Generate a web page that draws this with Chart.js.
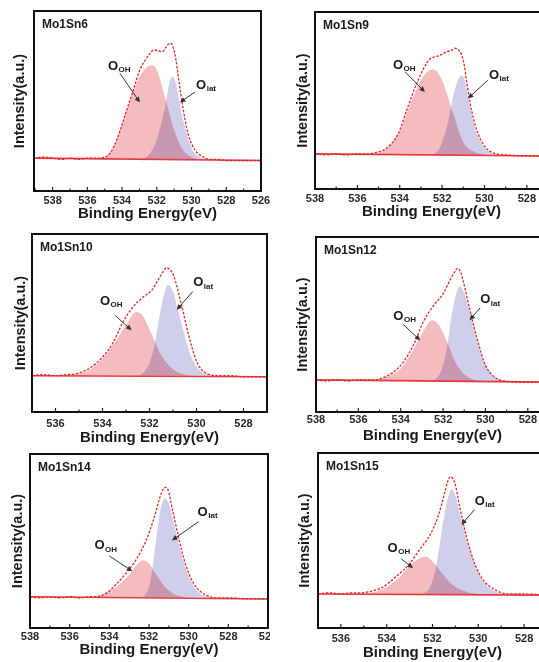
<!DOCTYPE html>
<html>
<head>
<meta charset="utf-8">
<script src="https://cdn.jsdelivr.net/npm/chart.js@4.4.0/dist/chart.umd.min.js"></script>
<style>
  html, body { margin: 0; padding: 0; background: #fff; width: 539px; height: 662px; overflow: hidden; position: relative; }
  .panel { position: absolute; overflow: hidden; }
  .panel canvas { position: absolute; left: 0; top: 0; }
</style>
</head>
<body>
<script>
// O 1s spectra, [binding energy (eV), normalised intensity]
// Mo1Sn6
const sn6Env = [[539.07,0.01],[538.5,0.02],[538,0.01],[537.5,0.0],[537,0.01],[536.5,0.0],[536,0.01],[535.5,0.01],[535,0.02],[534.7,0.05],[534.3,0.17],[534,0.30],[533.7,0.44],[533.3,0.62],[533,0.76],[532.6,0.87],[532.4,0.91],[532.2,0.94],[532,0.94],[531.8,0.93],[531.65,0.93],[531.5,0.96],[531.35,0.99],[531.2,1.0],[531.05,0.96],[530.9,0.86],[530.75,0.70],[530.5,0.45],[530.2,0.22],[529.8,0.08],[529.3,0.02],[529,0.0],[528.5,0.0],[528,-0.01],[527,-0.01],[526,-0.01]];
const sn6Ooh = [[536,0],[535.5,0.005],[535,0.02],[534.5,0.10],[534,0.30],[533.5,0.52],[533,0.71],[532.6,0.79],[532.3,0.81],[532,0.77],[531.5,0.52],[531,0.25],[530.5,0.08],[530,0.02],[529.5,0],[529,0]];
const sn6Lat = [[533,0],[532.5,0.03],[532,0.17],[531.5,0.47],[531.25,0.68],[531.1,0.71],[530.95,0.68],[530.5,0.35],[530,0.10],[529.5,0.02],[529,0]];
const sn6Base = [[539.07,0.01],[526,-0.01]];
// Mo1Sn9
const sn9Env = [[538,0.01],[537.5,0.0],[537,0.01],[536.5,0.0],[536,0.01],[535.5,0.01],[535,0.03],[534.64,0.06],[534.07,0.20],[533.67,0.42],[533.2,0.67],[532.73,0.86],[532.5,0.91],[532.34,0.92],[532.15,0.93],[531.95,0.95],[531.75,0.97],[531.55,0.98],[531.4,1.0],[531.25,0.99],[531.08,0.94],[530.95,0.84],[530.85,0.70],[530.61,0.42],[530.3,0.20],[529.9,0.06],[529.43,0.01],[529,0.0],[528,-0.01],[527,-0.01]];
const sn9Ooh = [[536,0],[535.5,0.005],[535,0.02],[534.5,0.08],[534,0.22],[533.5,0.48],[533,0.70],[532.7,0.78],[532.4,0.80],[532,0.70],[531.5,0.40],[531,0.12],[530.5,0.03],[530,0]];
const sn9Lat = [[532.5,0],[532.2,0.04],[532,0.12],[531.75,0.28],[531.5,0.53],[531.25,0.70],[531.08,0.75],[530.9,0.68],[530.7,0.47],[530.5,0.30],[530.2,0.13],[529.9,0.05],[529.5,0.01],[529,0]];
const sn9Base = [[538,0.01],[527,-0.01]];
// Mo1Sn10
const sn10Env = [[537,0.0],[536.5,0.01],[536,0.0],[535.5,0.01],[535.1,0.02],[534.54,0.07],[533.97,0.18],[533.54,0.31],[533.12,0.50],[532.69,0.64],[532.26,0.73],[531.91,0.79],[531.62,0.89],[531.4,0.97],[531.27,1.0],[531.12,0.98],[530.98,0.93],[530.63,0.65],[530.34,0.38],[529.99,0.13],[529.56,0.02],[529,0.0],[528.5,0.0],[528,-0.01],[527,-0.01]];
const sn10Ooh = [[536,0],[535.5,0.005],[535,0.02],[534.5,0.06],[534,0.16],[533.5,0.30],[533,0.47],[532.55,0.59],[532.3,0.56],[532,0.43],[531.5,0.19],[531,0.06],[530.5,0.01],[530,0]];
const sn10Lat = [[532.5,0],[532.25,0.03],[532,0.12],[531.8,0.27],[531.55,0.58],[531.35,0.78],[531.2,0.84],[531,0.78],[530.8,0.62],[530.55,0.41],[530.3,0.22],[530.1,0.12],[529.8,0.04],[529.5,0.01],[529,0]];
const sn10Base = [[537,0.0],[527,-0.01]];
// Mo1Sn12
const sn12Env = [[538,0.01],[537.5,0.0],[537,0.01],[536.5,0.0],[536,0.01],[535.44,0.01],[534.97,0.02],[534.34,0.08],[533.87,0.17],[533.4,0.32],[532.92,0.53],[532.45,0.67],[531.98,0.78],[531.66,0.90],[531.45,0.97],[531.32,1.0],[531.18,0.97],[531.04,0.88],[530.72,0.62],[530.4,0.38],[530,0.14],[529.6,0.04],[529.1,0.0],[528,-0.01],[527,-0.01]];
const sn12Ooh = [[535.5,0],[535,0.02],[534.5,0.05],[534,0.11],[533.5,0.25],[533,0.42],[532.53,0.54],[532.2,0.50],[531.8,0.34],[531.4,0.16],[531,0.06],[530.5,0.01],[530,0]];
const sn12Lat = [[532.5,0],[532.2,0.05],[532,0.14],[531.8,0.32],[531.6,0.58],[531.4,0.76],[531.2,0.84],[531,0.78],[530.7,0.58],[530.4,0.36],[530.1,0.18],[529.8,0.08],[529.4,0.02],[529,0]];
const sn12Base = [[538,0.01],[527,-0.01]];
// Mo1Sn14
const sn14Env = [[538,0.01],[537.5,0.0],[537,0.01],[536.5,0.0],[536,0.01],[535.5,0.0],[535,0.01],[534.67,0.01],[534.17,0.04],[533.67,0.12],[533.17,0.22],[532.67,0.34],[532.17,0.51],[531.75,0.72],[531.5,0.88],[531.35,0.96],[531.2,1.0],[531.05,0.98],[530.83,0.81],[530.5,0.54],[530.17,0.31],[529.75,0.13],[529.17,0.03],[528.6,0.0],[528,0.0],[527,-0.01],[526,-0.01]];
const sn14Ooh = [[535,0],[534.5,0.02],[534,0.06],[533.5,0.12],[533,0.21],[532.6,0.30],[532.3,0.34],[532,0.31],[531.6,0.20],[531.2,0.10],[530.8,0.04],[530.3,0.01],[530,0]];
const sn14Lat = [[532.3,0],[532,0.10],[531.8,0.30],[531.6,0.58],[531.4,0.82],[531.17,0.90],[531,0.85],[530.7,0.64],[530.4,0.42],[530.1,0.24],[529.8,0.12],[529.5,0.05],[529,0.01],[528.7,0]];
const sn14Base = [[538,0.01],[526,-0.01]];
// Mo1Sn15
const sn15Env = [[537,0.0],[536.5,0.01],[536,0.0],[535.5,0.01],[535.18,0.01],[534.74,0.02],[534.16,0.06],[533.58,0.15],[532.99,0.26],[532.56,0.38],[532.12,0.50],[531.76,0.66],[531.47,0.86],[531.35,0.95],[531.22,1.0],[531.1,0.98],[531.0,0.93],[530.81,0.74],[530.52,0.49],[530.16,0.26],[529.79,0.12],[529.21,0.03],[528.7,0.0],[528,0.0],[527,-0.01]];
const sn15Ooh = [[535,0],[534.5,0.02],[534,0.06],[533.5,0.13],[533,0.24],[532.6,0.30],[532.3,0.32],[532,0.28],[531.6,0.18],[531.2,0.09],[530.8,0.04],[530.4,0.01],[530,0]];
const sn15Lat = [[532.4,0],[532.1,0.06],[531.9,0.18],[531.7,0.40],[531.5,0.66],[531.3,0.84],[531.17,0.89],[531,0.84],[530.74,0.63],[530.4,0.39],[530.1,0.22],[529.8,0.11],[529.5,0.05],[529.1,0.01],[528.8,0]];
const sn15Base = [[537,0.0],[527,-0.01]];

// tick labels
const ticks538to526 = [538, 536, 534, 532, 530, 528, 526];
const ticks538to528 = [538, 536, 534, 532, 530, 528];
const ticks536to528 = [536, 534, 532, 530, 528];

const FONT = '"Liberation Sans", Arial, sans-serif';

// layout: box = canvas position/size, plot = wanted chart area (page px)
const panels = [
  { name: 'Mo1Sn6', env: sn6Env, ooh: sn6Ooh, lat: sn6Lat, base: sn6Base, ticks: ticks538to526,
    box: { cl: 0, ct: 0, cw: 276, ch: 223, clipW: 272 }, plot: { L: 34, T: 11, R: 261, B: 191 },
    x: [526, 539.07], y: [-0.273, 1.278], tickPad: 3, yPad: 11.2,
    lblOoh: [534.81, 0.80], lblLat: [529.74, 0.64], arOoh: [534.12, 0.74, 532.97, 0.49], arLat: [529.8, 0.58, 530.67, 0.49] },
  { name: 'Mo1Sn9', env: sn9Env, ooh: sn9Ooh, lat: sn9Lat, base: sn9Base, ticks: ticks538to528,
    box: { cl: 275, ct: 0, cw: 285, ch: 221, clipW: 264 }, plot: { L: 315, T: 12, R: 548, B: 189 },
    x: [527, 538], y: [-0.319, 1.340], tickPad: 3.4, yPad: 19.2,
    lblOoh: [534.32, 0.84], lblLat: [529.79, 0.75], arOoh: [533.75, 0.78, 532.81, 0.59], arLat: [529.84, 0.70, 530.78, 0.53] },
  { name: 'Mo1Sn10', env: sn10Env, ooh: sn10Ooh, lat: sn10Lat, base: sn10Base, ticks: ticks536to528,
    box: { cl: 0, ct: 226, cw: 276, ch: 221, clipW: 272 }, plot: { L: 32, T: 234, R: 267, B: 412 },
    x: [527, 537], y: [-0.336, 1.312], tickPad: 5, yPad: 11.9,
    lblOoh: [534.11, 0.69], lblLat: [530.14, 0.86], arOoh: [533.47, 0.56, 532.76, 0.42], arLat: [530.16, 0.78, 530.84, 0.61] },
  { name: 'Mo1Sn12', env: sn12Env, ooh: sn12Ooh, lat: sn12Lat, base: sn12Base, ticks: ticks538to528,
    box: { cl: 275, ct: 226, cw: 285, ch: 219, clipW: 264 }, plot: { L: 316, T: 237, R: 549, B: 412 },
    x: [527, 538], y: [-0.275, 1.278], tickPad: 1, yPad: 19.2,
    lblOoh: [534.35, 0.57], lblLat: [530.25, 0.72], arOoh: [533.87, 0.50, 533.08, 0.36], arLat: [530.25, 0.65, 530.75, 0.54] },
  { name: 'Mo1Sn14', env: sn14Env, ooh: sn14Ooh, lat: sn14Lat, base: sn14Base, ticks: ticks538to526,
    box: { cl: 0, ct: 447, cw: 282, ch: 212, clipW: 270 }, plot: { L: 30, T: 454, R: 268, B: 628 },
    x: [526, 538], y: [-0.273, 1.302], tickPad: 2.4, yPad: 9.5,
    lblOoh: [534.75, 0.47], lblLat: [529.55, 0.77], arOoh: [534.0, 0.38, 532.84, 0.24], arLat: [529.5, 0.69, 530.84, 0.52] },
  { name: 'Mo1Sn15', env: sn15Env, ooh: sn15Ooh, lat: sn15Lat, base: sn15Base, ticks: ticks536to528,
    box: { cl: 275, ct: 446, cw: 285, ch: 216, clipW: 264 }, plot: { L: 318, T: 453, R: 547, B: 628 },
    x: [527, 537], y: [-0.29, 1.202], tickPad: 4.4, yPad: 21.2,
    lblOoh: [533.96, 0.39], lblLat: [530.16, 0.79], arOoh: [533.36, 0.30, 532.85, 0.22], arLat: [530.16, 0.72, 530.74, 0.59] }
];

function drawArrow(ctx, x1, y1, x2, y2) {
  const a = Math.atan2(y2 - y1, x2 - x1), h = 5.5, w = 2.6;
  ctx.strokeStyle = '#333'; ctx.fillStyle = '#333'; ctx.lineWidth = 1;
  ctx.beginPath();
  ctx.moveTo(x1, y1);
  ctx.lineTo(x2 - h * 0.8 * Math.cos(a), y2 - h * 0.8 * Math.sin(a));
  ctx.stroke();
  ctx.beginPath();
  ctx.moveTo(x2, y2);
  ctx.lineTo(x2 - h * Math.cos(a) + w * Math.sin(a), y2 - h * Math.sin(a) - w * Math.cos(a));
  ctx.lineTo(x2 - h * Math.cos(a) - w * Math.sin(a), y2 - h * Math.sin(a) + w * Math.cos(a));
  ctx.closePath();
  ctx.fill();
}

function drawLabel(ctx, x, y, main, sub) {
  ctx.fillStyle = '#1a1a1a';
  ctx.textAlign = 'left';
  ctx.textBaseline = 'middle';
  ctx.font = 'bold 13px ' + FONT;
  ctx.fillText(main, x, y);
  const w = ctx.measureText(main).width;
  ctx.font = 'bold 8px ' + FONT;
  ctx.fillText(sub, x + w + 0.5, y + 3.5);
}

function makePanel(p) {
  const div = document.createElement('div');
  div.className = 'panel';
  div.style.left = p.box.cl + 'px';
  div.style.top = p.box.ct + 'px';
  div.style.width = p.box.clipW + 'px';
  div.style.height = p.box.ch + 'px';
  const cv = document.createElement('canvas');
  cv.width = p.box.cw;
  cv.height = p.box.ch;
  div.appendChild(cv);
  document.body.appendChild(div);

  const { L, T, R, B } = p.plot;
  const pts = arr => arr.map(d => ({ x: d[0], y: d[1] }));
  const minorTicks = [];
  for (let v = Math.ceil(p.x[0]); v <= p.x[1]; v++) if (!p.ticks.includes(v)) minorTicks.push(v);

  const deco = {
    id: 'deco',
    beforeDatasetsDraw(c) {
      c.ctx.save();
      c.ctx.globalCompositeOperation = 'multiply';
    },
    afterDatasetDraw(c, args) {
      if (args.index === 2) c.ctx.globalCompositeOperation = 'source-over';
    },
    afterDatasetsDraw(c) {
      c.ctx.restore();
    },
    afterDraw(c) {
      const ctx = c.ctx, a = c.chartArea, xs = c.scales.x, ys = c.scales.y;
      ctx.save();
      // inward ticks
      ctx.strokeStyle = '#222';
      ctx.lineWidth = 1.2;
      p.ticks.forEach(v => {
        const x = xs.getPixelForValue(v);
        ctx.beginPath(); ctx.moveTo(x, a.bottom); ctx.lineTo(x, a.bottom - 4); ctx.stroke();
      });
      minorTicks.forEach(v => {
        const x = xs.getPixelForValue(v);
        ctx.beginPath(); ctx.moveTo(x, a.bottom); ctx.lineTo(x, a.bottom - 2.5); ctx.stroke();
      });
      // frame
      ctx.strokeStyle = '#111';
      ctx.lineWidth = 2;
      ctx.strokeRect(a.left, a.top, a.right - a.left, a.bottom - a.top);
      // sample name
      ctx.fillStyle = '#1a1a1a';
      ctx.font = 'bold 12px ' + FONT;
      ctx.textAlign = 'left';
      ctx.textBaseline = 'middle';
      ctx.fillText(p.name, a.left + 8, a.top + 14);
      // peak labels and arrows
      drawLabel(ctx, xs.getPixelForValue(p.lblOoh[0]), ys.getPixelForValue(p.lblOoh[1]), 'O', 'OH');
      drawLabel(ctx, xs.getPixelForValue(p.lblLat[0]), ys.getPixelForValue(p.lblLat[1]), 'O', 'lat');
      [p.arOoh, p.arLat].forEach(ar => drawArrow(ctx,
        xs.getPixelForValue(ar[0]), ys.getPixelForValue(ar[1]),
        xs.getPixelForValue(ar[2]), ys.getPixelForValue(ar[3])));
      ctx.restore();
    }
  };

  new Chart(cv, {
    type: 'line',
    data: {
      datasets: [
        { label: 'fit', data: pts(p.env), borderColor: '#e3262b', borderWidth: 1.3, borderDash: [2.5, 1.5],
          pointRadius: 0, fill: false, cubicInterpolationMode: 'monotone' },
        { label: 'background', data: pts(p.base), borderColor: '#e8383a', borderWidth: 1.6, pointRadius: 0, fill: false },
        { label: 'O_OH', data: pts(p.ooh), borderWidth: 0, backgroundColor: 'rgb(245,188,191)',
          fill: 'origin', pointRadius: 0, cubicInterpolationMode: 'monotone' },
        { label: 'O_lat', data: pts(p.lat), borderWidth: 0, backgroundColor: 'rgb(207,206,235)',
          fill: 'origin', pointRadius: 0, cubicInterpolationMode: 'monotone' }
      ]
    },
    options: {
      responsive: false,
      maintainAspectRatio: false,
      animation: false,
      devicePixelRatio: 1,
      layout: { padding: { left: 0, bottom: 0, top: T - p.box.ct, right: p.box.cw - (R - p.box.cl) } },
      plugins: { legend: { display: false }, tooltip: { enabled: false } },
      scales: {
        x: {
          type: 'linear', position: 'bottom', reverse: true, min: p.x[0], max: p.x[1],
          afterBuildTicks: s => { s.ticks = p.ticks.map(v => ({ value: v })); },
          afterFit: s => { s.height = p.box.ct + p.box.ch - B; },
          grid: { display: false, drawTicks: false },
          border: { display: false },
          ticks: { autoSkip: false, maxRotation: 0, padding: p.tickPad, color: '#2a2a2a',
                   font: { family: FONT, size: 11, weight: 'bold' }, callback: v => String(v) },
          title: { display: true, text: 'Binding Energy(eV)', color: '#1a1a1a', padding: 0,
                   font: { family: FONT, size: 15, weight: 'bold' } }
        },
        y: {
          type: 'linear', min: p.y[0], max: p.y[1],
          afterFit: s => { s.width = L - p.box.cl; },
          grid: { display: false, drawTicks: false },
          border: { display: false },
          ticks: { display: false },
          title: { display: true, text: 'Intensity(a.u.)', color: '#1a1a1a', padding: { top: p.yPad, bottom: 0 },
                   font: { family: FONT, size: 14.5, weight: 'bold' } }
        }
      }
    },
    plugins: [deco]
  });
}

panels.forEach(makePanel);
</script>
</body>
</html>
